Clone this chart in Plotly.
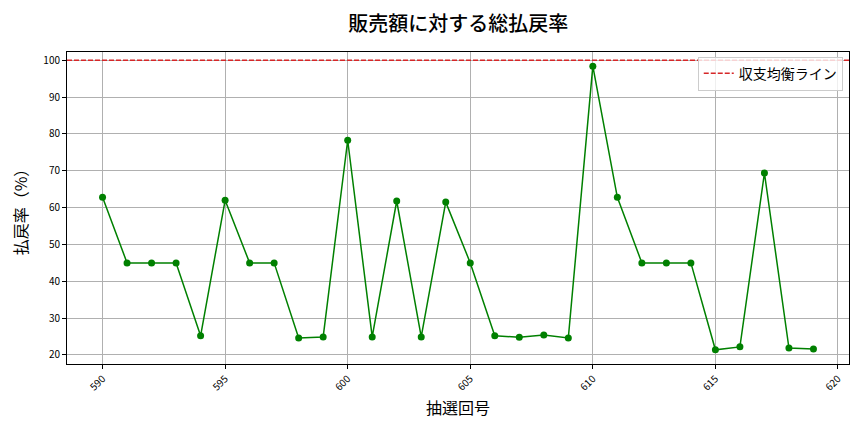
import plotly.graph_objects as go

# Data.
draw_numbers = list(range(590, 620))
payout_rates = [
    62.8, 45.0, 45.0, 45.0, 25.2, 62.0, 45.0, 45.0, 24.6, 24.9,
    78.3, 24.9, 61.8, 24.9, 61.5, 45.0, 25.2, 24.8, 25.4, 24.6,
    98.4, 62.8, 45.0, 45.0, 45.0, 21.4, 22.2, 69.4, 21.9, 21.6,
]
breakeven_rate = 100
x_ticks = [590, 595, 600, 605, 610, 615, 620]
y_ticks = [20, 30, 40, 50, 60, 70, 80, 90, 100]

font_family = 'Noto Sans CJK JP, Noto Sans, DejaVu Sans'

figure = go.Figure()
figure.add_trace(go.Scatter(
    x=draw_numbers,
    y=payout_rates,
    mode='lines+markers',
    line=dict(color='green', width=1.5),
    marker=dict(color='green', size=7),
    showlegend=False,
    hoverinfo='x+y'
))
# Breakeven line as a trace, so it shows in the legend.
figure.add_trace(go.Scatter(
    x=[588.55, 620.45],
    y=[breakeven_rate, breakeven_rate],
    mode='lines',
    line=dict(color='#d62728', width=1.5, dash='5px,2px'),
    name='収支均衡ライン',
    hoverinfo='none'
))
# Page body has an 8px margin, so margins are shifted to compensate.
figure.update(layout=go.Layout(
    width=864, height=432,
    paper_bgcolor='white', plot_bgcolor='white',
    margin=dict(l=59, r=23, t=44, b=76, autoexpand=False),
    font=dict(family=font_family, color='black'),
    title=dict(
        text='販売額に対する総払戻率', x=0.521, xanchor='center', y=0.963, yanchor='middle',
        font=dict(size=20, family=font_family, weight=500, color='black')
    ),
    showlegend=True,
    legend=dict(
        x=0.992, y=0.985, xanchor='right', yanchor='top',
        bgcolor='rgba(255,255,255,0.8)', bordercolor='#cccccc', borderwidth=1,
        font=dict(size=14), itemwidth=30
    ),
    xaxis=dict(
        range=[588.55, 620.45], tickvals=x_ticks, tickangle=-45, automargin=False,
        tickfont=dict(size=10), ticks='outside', ticklen=4, tickcolor='black',
        showgrid=True, gridcolor='#b0b0b0', gridwidth=1, zeroline=False,
        showline=True, linecolor='black', linewidth=1, mirror=True,
        title=dict(text='抽選回号', font=dict(size=16), standoff=10)
    ),
    yaxis=dict(
        range=[17.55, 102.25], tickvals=y_ticks, automargin=False,
        tickfont=dict(size=10), ticks='outside', ticklen=4, tickcolor='black',
        showgrid=True, gridcolor='#b0b0b0', gridwidth=1, zeroline=False,
        showline=True, linecolor='black', linewidth=1, mirror=True,
        title=dict(text='払戻率（%）', font=dict(size=16), standoff=12)
    )
))
figure.write_html('out.html')
